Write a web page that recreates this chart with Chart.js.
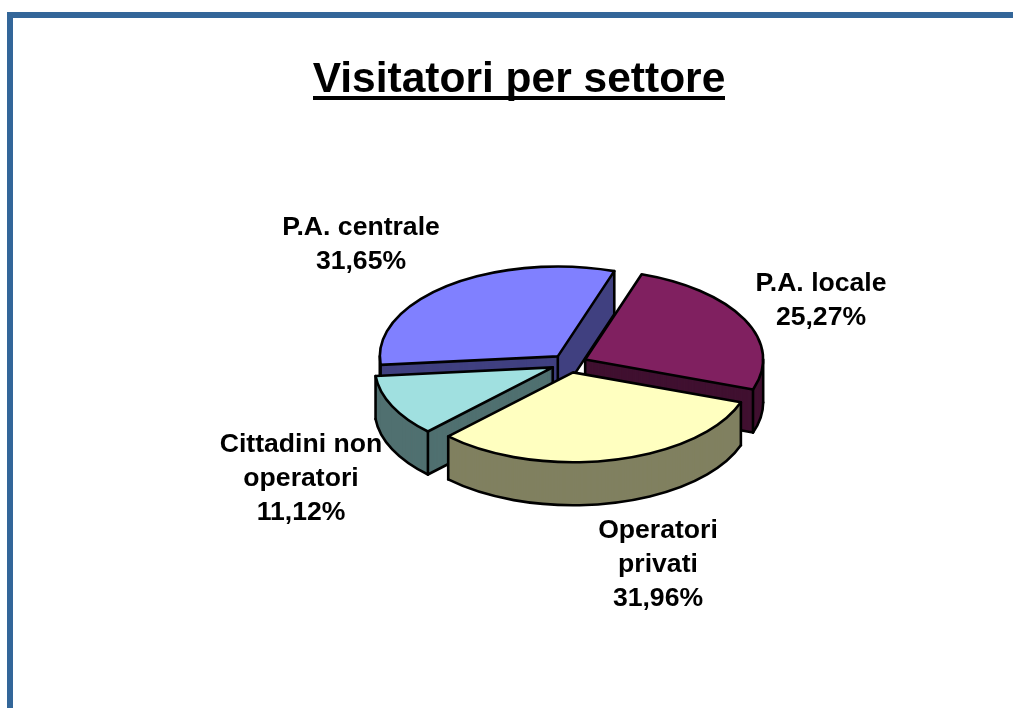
<!DOCTYPE html>
<html>
<head>
<meta charset="utf-8">
<style>
html,body{margin:0;padding:0;background:#fff;overflow:hidden}
#frame{position:absolute;left:7px;top:12px;width:1006px;height:696px;box-sizing:border-box;border-left:6px solid #336699;border-top:6px solid #336699}
canvas{position:absolute;left:0;top:0}
</style>
<script src="https://cdn.jsdelivr.net/npm/chart.js@4"></script>
</head>
<body>
<div id="frame"></div>
<canvas id="c" width="1013" height="708"></canvas>
<script>
const chartTitle = 'Visitatori per settore';
const categories = ['P.A. locale', 'Operatori privati', 'Cittadini non operatori', 'P.A. centrale'];
const categoryLines = [['P.A. locale'], ['Operatori', 'privati'], ['Cittadini non', 'operatori'], ['P.A. centrale']];
const shares = [25.27, 31.96, 11.12, 31.65];
const topColours = ['#802060', '#FFFFC0', '#A0E0E0', '#8080FF'];
const sideColours = ['#401030', '#808060', '#507070', '#404080'];

const SQUASH = 0.505, DEPTH = 43, LINE = 2.6;
const drawOrder = [3, 0, 2, 1];
const labelCentres = [[361, 245], [821, 301], [658, 565], [301, 479]];
const labelSlots = [1, 2, 3, 0];

function geom(arc) {
  const off = arc.options.offset / 4;
  const mid = (arc.startAngle + arc.endAngle) / 2;
  return {
    x: arc.x + Math.cos(mid) * off,
    y: arc.y + Math.sin(mid) * off * SQUASH,
    a: arc.startAngle, b: arc.endAngle, r: arc.outerRadius, ry: arc.outerRadius * SQUASH
  };
}
function slicePath(ctx, g, dy) {
  ctx.beginPath();
  ctx.moveTo(g.x, g.y + dy);
  ctx.ellipse(g.x, g.y + dy, g.r, g.ry, 0, g.a, g.b);
  ctx.closePath();
}
function pt(g, t, dy) {
  return [g.x + g.r * Math.cos(t), g.y + g.ry * Math.sin(t) + dy];
}
function seg(ctx, p, q) {
  ctx.beginPath(); ctx.moveTo(p[0], p[1]); ctx.lineTo(q[0], q[1]); ctx.stroke();
}
function drawSlice(ctx, arc, i) {
  const g = geom(arc);
  ctx.fillStyle = sideColours[i];
  for (let d = DEPTH; d >= 1; d--) { slicePath(ctx, g, d); ctx.fill(); }
  ctx.fillStyle = topColours[i];
  slicePath(ctx, g, 0); ctx.fill();

  ctx.strokeStyle = '#000';
  ctx.lineWidth = LINE;
  ctx.lineJoin = 'round';
  ctx.lineCap = 'round';
  const startFace = Math.cos(g.a) < 0, endFace = Math.cos(g.b) > 0;
  const apex = [g.x, g.y], apexLow = [g.x, g.y + DEPTH];
  const lo = Math.max(g.a, 0), hi = Math.min(g.b, Math.PI);
  if (hi > lo) {
    ctx.beginPath();
    ctx.ellipse(g.x, g.y + DEPTH, g.r, g.ry, 0, lo, hi);
    ctx.stroke();
  }
  if (startFace) seg(ctx, apexLow, pt(g, g.a, DEPTH));
  if (endFace) seg(ctx, apexLow, pt(g, g.b, DEPTH));
  const verticals = [];
  if (startFace || endFace) verticals.push(apex);
  if (startFace || Math.sin(g.a) > 0) verticals.push(pt(g, g.a, 0));
  if (endFace || Math.sin(g.b) > 0) verticals.push(pt(g, g.b, 0));
  if (g.a <= 0 && g.b >= 0) verticals.push(pt(g, 0, 0));
  if (g.a <= Math.PI && g.b >= Math.PI) verticals.push(pt(g, Math.PI, 0));
  verticals.forEach(p => seg(ctx, p, [p[0], p[1] + DEPTH]));
  slicePath(ctx, g, 0); ctx.stroke();
}

const tiltedPie = {
  id: 'tiltedPie',
  beforeDatasetDraw(chart, args) {
    const arcs = chart.getDatasetMeta(args.index).data;
    chart.ctx.save();
    drawOrder.forEach(i => drawSlice(chart.ctx, arcs[i], i));
    chart.ctx.restore();
    return false;
  },
  afterDraw(chart) {
    const ctx = chart.ctx;
    ctx.save();
    ctx.fillStyle = '#000';
    ctx.textAlign = 'center';
    ctx.textBaseline = 'alphabetic';
    ctx.font = 'bold 42.5px "Liberation Sans", Arial, sans-serif';
    ctx.fillText(chartTitle, 519, 92);
    ctx.fillRect(313, 96, 412, 4);
    ctx.font = 'bold 26.6px "Liberation Sans", Arial, sans-serif';
    ctx.textBaseline = 'middle';
    categories.forEach((name, i) => {
      const lines = categoryLines[i].concat(shares[i].toFixed(2).replace('.', ',') + '%');
      const [cx, cy] = labelCentres[labelSlots[i]];
      lines.forEach((t, k) => {
        ctx.fillText(t, cx, cy + (k - (lines.length - 1) / 2) * 34);
      });
    });
    ctx.restore();
  }
};

new Chart(document.getElementById('c'), {
  type: 'pie',
  data: {
    labels: categories,
    datasets: [{data: shares, backgroundColor: topColours, borderColor: '#000', borderWidth: 0, offset: 72}]
  },
  options: {
    responsive: false,
    animation: false,
    events: [],
    rotation: 18.5,
    radius: 178,
    layout: {padding: {left: 125, top: 19}},
    plugins: {legend: {display: false}, tooltip: {enabled: false}, title: {display: false}}
  },
  plugins: [tiltedPie]
});
</script>
</body>
</html>
